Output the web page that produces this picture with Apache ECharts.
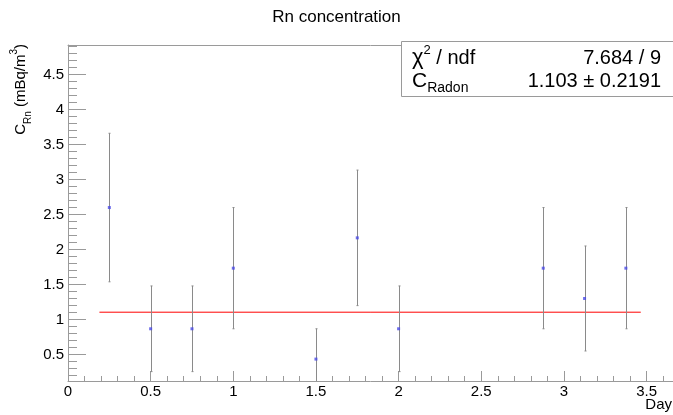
<!DOCTYPE html>
<html>
<head>
<meta charset="utf-8">
<script src="https://cdn.jsdelivr.net/npm/echarts@6/dist/echarts.min.js"></script>
<style>
html,body{margin:0;padding:0;background:#fff;}
#c{width:673px;height:415px;}
</style>
</head>
<body>
<div id="c"></div>
<script>
// ---- data ----
var days = [0.25, 0.5, 0.75, 1.0, 1.5, 1.75, 2.0, 2.875, 3.125, 3.375];
var values = [2.598, 0.866, 0.866, 1.732, 0.433, 2.165, 0.866, 1.732, 1.299, 1.732];
var errors = [1.061, 0.612, 0.612, 0.866, 0.433, 0.968, 0.612, 0.866, 0.750, 0.866];
var fitX = [0.19, 3.465];
var fitValue = 1.103;
var xMajorTicks = [0, 0.5, 1, 1.5, 2, 2.5, 3, 3.5];
var yMajorTicks = [0.5, 1, 1.5, 2, 2.5, 3, 3.5, 4, 4.5];
var titleText = 'Rn concentration';
var xName = 'Day';
var statChi = '7.684 / 9';
var statC = '1.103 \u00b1 0.2191';

var xMinor = [];
for (var i = 1; i <= 36; i++) { if (i % 5 !== 0) xMinor.push(+(i * 0.1).toFixed(1)); }
var yMinor = [];
for (var j = 2; j <= 49; j++) { if (j % 5 !== 0) yMinor.push(+(j * 0.1).toFixed(1)); }

var AX = '#9a9a9a';
var FONT = '"Liberation Sans", Arial, Helvetica, sans-serif';
var xMin = 0, xMax = 3.66, yMin = 0.12, yMax = 4.92;

var pts = days.map(function (d, k) { return [d, values[k], errors[k]]; });

var chart = echarts.init(document.getElementById('c'), null, {renderer: 'canvas'});
chart.setOption({
  animation: false,
  backgroundColor: '#fff',
  grid: {left: 68, right: 0, top: 45, bottom: 34, containLabel: false},
  xAxis: [
    {type: 'value', min: xMin, max: xMax, position: 'bottom',
     axisLine: {show: true, onZero: false, lineStyle: {color: AX, width: 1}},
     axisTick: {show: true, inside: true, length: 10, customValues: xMajorTicks, lineStyle: {color: AX}},
     axisLabel: {show: true, customValues: xMajorTicks, margin: 3, color: '#000', fontSize: 15, fontFamily: FONT},
     splitLine: {show: false}},
    {type: 'value', min: xMin, max: xMax, position: 'bottom',
     axisLine: {show: false}, axisLabel: {show: false}, splitLine: {show: false},
     axisTick: {show: true, inside: true, length: 5, customValues: xMinor, lineStyle: {color: AX}}},
    {type: 'value', min: xMin, max: xMax, position: 'top',
     axisLine: {show: true, onZero: false, lineStyle: {color: AX, width: 1}},
     axisTick: {show: false}, axisLabel: {show: false}, splitLine: {show: false}}
  ],
  yAxis: [
    {type: 'value', min: yMin, max: yMax, position: 'left',
     axisLine: {show: true, onZero: false, lineStyle: {color: AX, width: 1}},
     axisTick: {show: true, inside: true, length: 18, customValues: yMajorTicks, lineStyle: {color: AX}},
     axisLabel: {show: true, customValues: yMajorTicks, margin: 4, color: '#000', fontSize: 15, fontFamily: FONT},
     splitLine: {show: false}},
    {type: 'value', min: yMin, max: yMax, position: 'left',
     axisLine: {show: false}, axisLabel: {show: false}, splitLine: {show: false},
     axisTick: {show: true, inside: true, length: 9, customValues: yMinor, lineStyle: {color: AX}}}
  ],
  series: [
    {type: 'line', xAxisIndex: 0, yAxisIndex: 0, data: [[fitX[0], fitValue], [fitX[1], fitValue]],
     symbol: 'none', lineStyle: {color: '#ff0000', width: 1}, z: 3},
    {type: 'custom', xAxisIndex: 0, yAxisIndex: 0, data: pts, clip: true, z: 4,
     renderItem: function (params, api) {
       var x = api.value(0), v = api.value(1), e = api.value(2);
       var lo = Math.max(v - e, yMin), hi = Math.min(v + e, yMax);
       var p1 = api.coord([x, lo]);
       var p2 = api.coord([x, hi]);
       var px = Math.round(p1[0]) + 0.5;
       var children = [
         {type: 'line', shape: {x1: px, y1: p1[1], x2: px, y2: p2[1]}, style: {stroke: '#8a8a8a', lineWidth: 1}}
       ];
       if (v + e <= yMax) children.push({type: 'line', shape: {x1: px - 1, y1: p2[1], x2: px + 1, y2: p2[1]}, style: {stroke: '#8a8a8a', lineWidth: 1}});
       if (v - e >= yMin) children.push({type: 'line', shape: {x1: px - 1, y1: p1[1], x2: px + 1, y2: p1[1]}, style: {stroke: '#8a8a8a', lineWidth: 1}});
       return {type: 'group', children: children};
     }},
    {type: 'scatter', xAxisIndex: 0, yAxisIndex: 0, data: pts.map(function (p) { return [p[0], p[1]]; }),
     symbol: 'rect', symbolSize: 3, itemStyle: {color: '#4a4ae6'}, z: 5}
  ],
  graphic: [
    {type: 'text', left: 'center', top: 9, style: {text: titleText, fontSize: 17, fontFamily: FONT, fill: '#000'}},
    {type: 'text', x: 672, y: 405, style: {text: xName, fontSize: 15, fontFamily: FONT, fill: '#000', align: 'right', verticalAlign: 'middle'}},
    {type: 'text', x: 21, y: 44, rotation: Math.PI / 2,
     style: {text: '{m|C}{s|Rn}{m| (mBq/m}{p|3}{m|)}', align: 'right', verticalAlign: 'middle', fill: '#000',
       rich: {
         m: {fontSize: 15, fontFamily: FONT, lineHeight: 24, verticalAlign: 'middle'},
         s: {fontSize: 10, fontFamily: FONT, lineHeight: 24, verticalAlign: 'bottom'},
         p: {fontSize: 10, fontFamily: FONT, lineHeight: 24, verticalAlign: 'top'}
       }}},
    {type: 'rect', shape: {x: 401.5, y: 41.5, width: 280, height: 55}, style: {fill: '#fff', stroke: AX, lineWidth: 1}, z: 10},
    {type: 'text', x: 412, y: 58, z: 11,
     style: {text: '{c|\u03c7}{p|2}{m| / ndf}', verticalAlign: 'middle', fill: '#000',
       rich: {
         c: {fontSize: 22, fontFamily: FONT, lineHeight: 28, verticalAlign: 'middle'},
         m: {fontSize: 20, fontFamily: FONT, lineHeight: 28, verticalAlign: 'middle'},
         p: {fontSize: 13, fontFamily: FONT, lineHeight: 28, verticalAlign: 'top'}
       }}},
    {type: 'text', x: 661, y: 58, z: 11, style: {text: statChi, fontSize: 20, fontFamily: FONT, fill: '#000', align: 'right', verticalAlign: 'middle'}},
    {type: 'text', x: 412, y: 81, z: 11,
     style: {text: '{m|C}{s|Radon}', verticalAlign: 'middle', fill: '#000',
       rich: {
         m: {fontSize: 21, fontFamily: FONT, lineHeight: 28, verticalAlign: 'middle'},
         s: {fontSize: 14, fontFamily: FONT, lineHeight: 28, verticalAlign: 'bottom'}
       }}},
    {type: 'text', x: 661, y: 81, z: 11, style: {text: statC, fontSize: 20, fontFamily: FONT, fill: '#000', align: 'right', verticalAlign: 'middle'}}
  ]
});
</script>
</body>
</html>
